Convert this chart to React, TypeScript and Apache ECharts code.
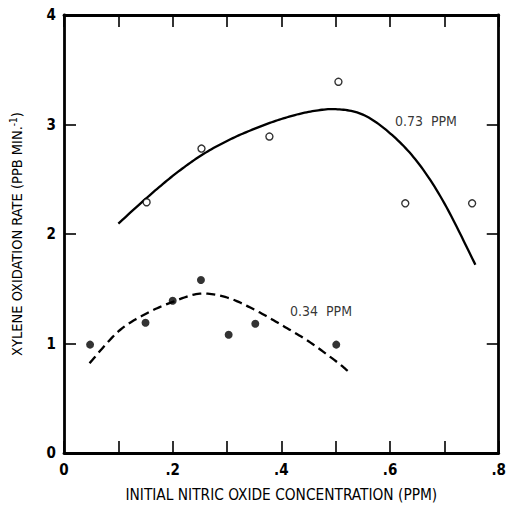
import React, { useEffect, useRef } from "react";
import * as echarts from "echarts";

// Open circles: 0.73 PPM xylene
const highX = [0.152, 0.253, 0.378, 0.505, 0.628, 0.751];
const highY = [2.29, 2.78, 2.89, 3.39, 2.28, 2.28];
// Filled dots: 0.34 PPM xylene
const lowX = [0.048, 0.15, 0.2, 0.252, 0.303, 0.352, 0.501];
const lowY = [0.99, 1.19, 1.39, 1.58, 1.08, 1.18, 0.99];
// Fitted curves
const highCurveX = [0.1, 0.15, 0.2, 0.25, 0.3, 0.35, 0.4, 0.45, 0.5, 0.55, 0.6, 0.65, 0.7, 0.757];
const highCurveY = [2.095, 2.32, 2.53, 2.71, 2.85, 2.96, 3.05, 3.115, 3.14, 3.09, 2.92, 2.66, 2.28, 1.72];
const lowCurveX = [0.047, 0.1, 0.15, 0.2, 0.25, 0.3, 0.35, 0.4, 0.45, 0.5, 0.522];
const lowCurveY = [0.82, 1.11, 1.27, 1.38, 1.455, 1.42, 1.31, 1.17, 1.02, 0.84, 0.75];
const seriesLabels = ["0.73  PPM", "0.34  PPM"];
const labelX = [0.666, 0.473];
const labelY = [3.03, 1.3];

const xTicks = { min: 0, max: 0.8, interval: 0.1 };
const yTicks = { min: 0, max: 4, interval: 1 };

const FONT = "'DejaVu Sans Condensed', 'Liberation Sans Narrow', 'Liberation Sans', sans-serif";

function splinePoints(pts: number[][]): number[][] {
  const out: number[][] = [];
  const n = pts.length;
  for (let i = 0; i < n - 1; i++) {
    const p0 = pts[Math.max(0, i - 1)];
    const p1 = pts[i];
    const p2 = pts[i + 1];
    const p3 = pts[Math.min(n - 1, i + 2)];
    const steps = 14;
    for (let s = 0; s < steps; s++) {
      const t = s / steps;
      const t2 = t * t;
      const t3 = t2 * t;
      const f = (a: number, b: number, c: number, d: number) =>
        0.5 * (2 * b + (-a + c) * t + (2 * a - 5 * b + 4 * c - d) * t2 + (-a + 3 * b - 3 * c + d) * t3);
      out.push([f(p0[0], p1[0], p2[0], p3[0]), f(p0[1], p1[1], p2[1], p3[1])]);
    }
  }
  out.push(pts[n - 1]);
  return out;
}

function curveSeries(xs: number[], ys: number[], dash: number[] | null) {
  return {
    type: "custom",
    silent: true,
    data: xs.map((x, i) => [x, ys[i]]),
    encode: { x: 0, y: 1 },
    renderItem: (params: any, api: any) => {
      if (params.dataIndex !== 0) return null;
      const pix = xs.map((x, i) => api.coord([x, ys[i]]));
      return {
        type: "polyline",
        shape: { points: splinePoints(pix) },
        style: { stroke: "#000", lineWidth: 2.3, fill: null, lineDash: dash || undefined },
      };
    },
  };
}

export default function App() {
  const ref = useRef<HTMLDivElement>(null);
  useEffect(() => {
    document.body.style.margin = "0";
    const chart = echarts.init(ref.current!, null, { renderer: "svg" });
    const xLabel = (v: number) => {
      const r = Math.round(v * 10);
      if (r % 2) return "";
      if (r === 0) return "0";
      return "." + r;
    };
    const axisLineStyle = { color: "#000", width: 2.8 };
    const tickStyle = { color: "#000", width: 1.6 };
    chart.setOption({
      animation: false,
      backgroundColor: "#fff",
      grid: { left: 61, right: 5, top: 15, bottom: 51, show: false },
      xAxis: [
        {
          type: "value",
          ...xTicks,
          position: "bottom",
          axisLine: { show: true, lineStyle: axisLineStyle },
          axisTick: { show: true, inside: true, length: 12, lineStyle: tickStyle },
          axisLabel: { formatter: xLabel, color: "#000", fontSize: 15, fontWeight: "bold", fontFamily: FONT, margin: 9 },
          splitLine: { show: false },
          name: "INITIAL NITRIC OXIDE CONCENTRATION (PPM)",
          nameLocation: "middle",
          nameGap: 34,
          nameTextStyle: { color: "#000", fontSize: 15.3, fontFamily: FONT },
        },
        {
          type: "value",
          ...xTicks,
          position: "top",
          axisLine: { show: true, onZero: false, lineStyle: axisLineStyle },
          axisTick: { show: true, inside: true, length: 12, lineStyle: tickStyle },
          axisLabel: { show: false },
          splitLine: { show: false },
        },
      ],
      yAxis: [
        {
          type: "value",
          ...yTicks,
          position: "left",
          axisLine: { show: true, lineStyle: axisLineStyle },
          axisTick: { show: true, inside: true, length: 12, lineStyle: tickStyle },
          axisLabel: { color: "#000", fontSize: 15, fontWeight: "bold", fontFamily: FONT, margin: 8 },
          splitLine: { show: false },
          name: "XYLENE OXIDATION RATE (PPB MIN.{sup|-1})",
          nameLocation: "middle",
          nameGap: 38,
          nameRotate: 90,
          nameTextStyle: {
            color: "#000",
            fontSize: 14.5,
            fontFamily: FONT,
            rich: { sup: { fontSize: 10, verticalAlign: "top", padding: [0, 0, 8, 0], fontFamily: FONT, color: "#000" } },
          },
        },
        {
          type: "value",
          ...yTicks,
          position: "right",
          axisLine: { show: true, onZero: false, lineStyle: axisLineStyle },
          axisTick: { show: true, inside: true, length: 12, lineStyle: tickStyle },
          axisLabel: { show: false },
          splitLine: { show: false },
        },
      ],
      series: [
        curveSeries(highCurveX, highCurveY, null),
        curveSeries(lowCurveX, lowCurveY, [9, 5]),
        {
          type: "scatter",
          data: highX.map((x, i) => [x, highY[i]]),
          symbol: "circle",
          symbolSize: 7,
          itemStyle: { color: "#fff", borderColor: "#000", borderWidth: 1.4 },
        },
        {
          type: "scatter",
          data: lowX.map((x, i) => [x, lowY[i]]),
          symbol: "circle",
          symbolSize: 8,
          itemStyle: { color: "#000" },
        },
        {
          type: "scatter",
          data: seriesLabels.map((n, i) => ({ name: n, value: [labelX[i], labelY[i]] })),
          symbolSize: 0,
          label: {
            show: true,
            position: "inside",
            formatter: (p: any) => p.name,
            color: "#000",
            fontSize: 14,
            fontFamily: FONT,
          },
          silent: true,
        },
      ],
    });
    return () => chart.dispose();
  }, []);
  return <div ref={ref} style={{ width: 509, height: 507 }} />;
}
